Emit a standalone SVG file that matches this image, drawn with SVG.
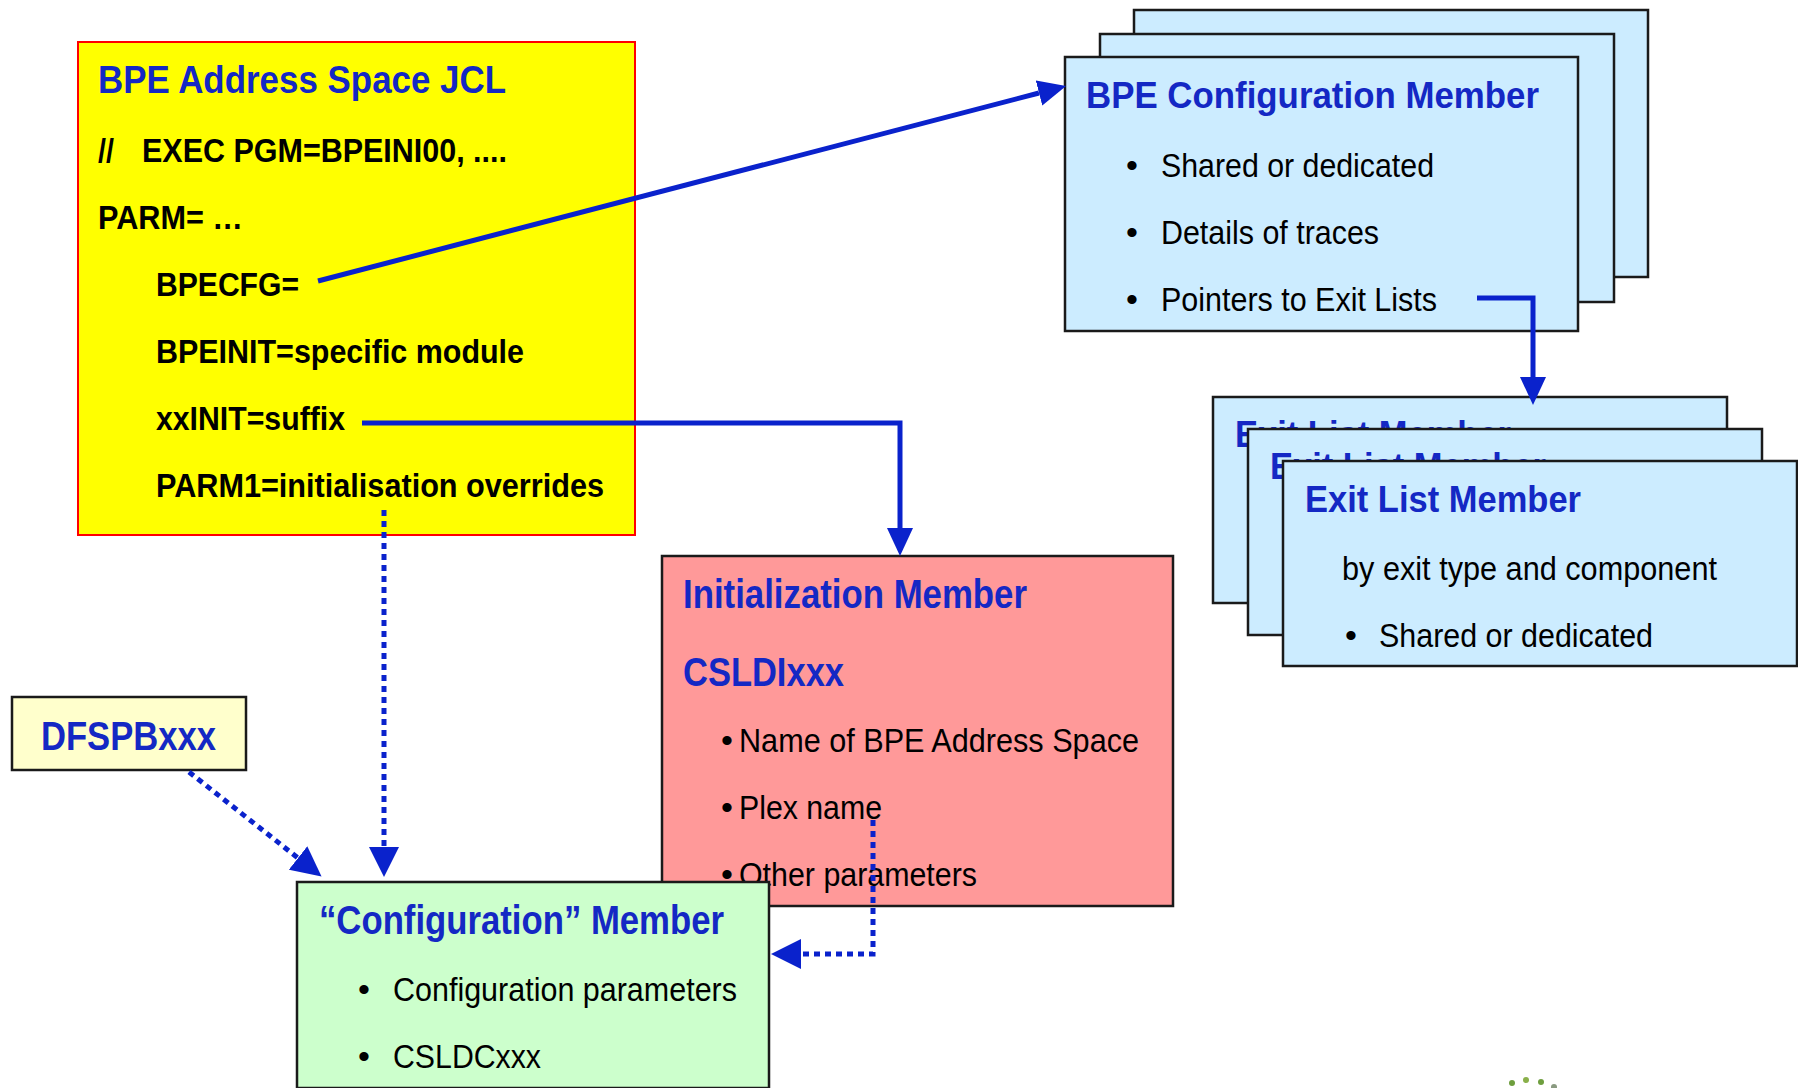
<svg xmlns="http://www.w3.org/2000/svg" width="1798" height="1088" viewBox="0 0 1798 1088">
<defs>
<style>
.t{font-family:"Liberation Sans Narrow","Liberation Sans",Arial,sans-serif;font-weight:bold;fill:#1428C4}
.b{font-family:"Liberation Sans Narrow","Liberation Sans",Arial,sans-serif;font-weight:bold;fill:#000;font-size:33px}
.n{font-family:"Liberation Sans Narrow","Liberation Sans",Arial,sans-serif;fill:#000;font-size:34px}
.box{stroke:#1a1a1a;stroke-width:2.5}
.blue{fill:#CCECFF}
.solid{fill:none;stroke:#0A22CC;stroke-width:5}
.dot{fill:none;stroke:#0A22CC;stroke-width:5;stroke-dasharray:6 5}
</style>
<marker id="ah" markerUnits="userSpaceOnUse" markerWidth="28" markerHeight="26" viewBox="0 0 28 26" refX="0" refY="13" orient="auto">
<path d="M0,0 L28,13 L0,26 Z" fill="#0A22CC"/>
</marker>
<marker id="ahd" markerUnits="userSpaceOnUse" markerWidth="30" markerHeight="30" viewBox="0 0 30 30" refX="0" refY="15" orient="auto">
<path d="M0,0 L30,15 L0,30 Z" fill="#0A22CC"/>
</marker>
</defs>
<rect width="1798" height="1088" fill="#fff"/>

<g id="jcl">
<rect x="78" y="42" width="557" height="493" fill="#FFFF00" stroke="#FF0000" stroke-width="2"/>
<text class="t" x="98" y="93" font-size="39" textLength="408" lengthAdjust="spacingAndGlyphs">BPE Address Space JCL</text>
<text class="b" x="98" y="162" textLength="16" lengthAdjust="spacingAndGlyphs">//</text>
<text class="b" x="142" y="162" textLength="365" lengthAdjust="spacingAndGlyphs">EXEC PGM=BPEINI00, ....</text>
<text class="b" x="98" y="229" textLength="145" lengthAdjust="spacingAndGlyphs">PARM= …</text>
<text class="b" x="156" y="296" textLength="143" lengthAdjust="spacingAndGlyphs">BPECFG=</text>
<text class="b" x="156" y="363" textLength="368" lengthAdjust="spacingAndGlyphs">BPEINIT=specific module</text>
<text class="b" x="156" y="430" textLength="189" lengthAdjust="spacingAndGlyphs">xxINIT=suffix</text>
<text class="b" x="156" y="497" textLength="448" lengthAdjust="spacingAndGlyphs">PARM1=initialisation overrides</text>
</g>

<g id="bpecfg">
<rect class="box blue" x="1134" y="10" width="514" height="267"/>
<text class="t" x="1156" y="60" font-size="37" textLength="453" lengthAdjust="spacingAndGlyphs">BPE Configuration Member</text>
<rect class="box blue" x="1100" y="34" width="514" height="268"/>
<text class="t" x="1121" y="84" font-size="37" textLength="453" lengthAdjust="spacingAndGlyphs">BPE Configuration Member</text>
<rect class="box blue" x="1065" y="57" width="513" height="274"/>
<text class="t" x="1086" y="108" font-size="37" textLength="453" lengthAdjust="spacingAndGlyphs">BPE Configuration Member</text>
<text class="n" x="1126" y="177">•</text>
<text class="n" x="1161" y="177" font-size="35" textLength="273" lengthAdjust="spacingAndGlyphs">Shared or dedicated</text>
<text class="n" x="1126" y="244">•</text>
<text class="n" x="1161" y="244" font-size="35" textLength="218" lengthAdjust="spacingAndGlyphs">Details of traces</text>
<text class="n" x="1126" y="311">•</text>
<text class="n" x="1161" y="311" font-size="35" textLength="276" lengthAdjust="spacingAndGlyphs">Pointers to Exit Lists</text>
</g>

<g id="exitlist">
<rect class="box blue" x="1213" y="397" width="514" height="206"/>
<text class="t" x="1235" y="447" font-size="36" textLength="276" lengthAdjust="spacingAndGlyphs">Exit List Member</text>
<rect class="box blue" x="1248" y="429" width="514" height="206"/>
<text class="t" x="1270" y="479" font-size="36" textLength="276" lengthAdjust="spacingAndGlyphs">Exit List Member</text>
<rect class="box blue" x="1283" y="461" width="514" height="205"/>
<text class="t" x="1305" y="512" font-size="36" textLength="276" lengthAdjust="spacingAndGlyphs">Exit List Member</text>
<text class="n" x="1342" y="580" textLength="375" lengthAdjust="spacingAndGlyphs">by exit type and component</text>
<text class="n" x="1345" y="647">•</text>
<text class="n" x="1379" y="647" textLength="274" lengthAdjust="spacingAndGlyphs">Shared or dedicated</text>
</g>

<g id="initmember">
<rect class="box" x="662" y="556" width="511" height="350" fill="#FF9999"/>
<text class="t" x="683" y="608" font-size="40" textLength="344" lengthAdjust="spacingAndGlyphs">Initialization Member</text>
<text class="t" x="683" y="686" font-size="40" textLength="161" lengthAdjust="spacingAndGlyphs">CSLDIxxx</text>
<text class="n" x="721" y="752">•</text>
<text class="n" x="739" y="752" textLength="400" lengthAdjust="spacingAndGlyphs">Name of BPE Address Space</text>
<text class="n" x="721" y="819">•</text>
<text class="n" x="739" y="819" textLength="143" lengthAdjust="spacingAndGlyphs">Plex name</text>
<text class="n" x="721" y="886">•</text>
<text class="n" x="739" y="886" textLength="238" lengthAdjust="spacingAndGlyphs">Other parameters</text>
</g>

<g id="dfspb">
<rect class="box" x="12" y="697" width="234" height="73" fill="#FFFFCC"/>
<text class="t" x="41" y="750" font-size="41" textLength="175" lengthAdjust="spacingAndGlyphs">DFSPBxxx</text>
</g>

<g id="configmember">
<rect class="box" x="297" y="882" width="472" height="206" fill="#CCFFCC"/>
<text class="t" x="319" y="934" font-size="40" textLength="405" lengthAdjust="spacingAndGlyphs">“Configuration” Member</text>
<text class="n" x="358" y="1001">•</text>
<text class="n" x="393" y="1001" textLength="344" lengthAdjust="spacingAndGlyphs">Configuration parameters</text>
<text class="n" x="358" y="1068">•</text>
<text class="n" x="393" y="1068" textLength="148" lengthAdjust="spacingAndGlyphs">CSLDCxxx</text>
</g>

<g id="connectors">
<path class="solid" d="M318,281 L1039,93" marker-end="url(#ah)"/>
<path class="solid" d="M362,423 H900 V528" marker-end="url(#ah)"/>
<path class="solid" d="M1477,298 H1533 V377" marker-end="url(#ah)"/>
<path class="dot" d="M384,510 V847" marker-end="url(#ahd)"/>
<path class="dot" d="M189,772 L298,858" marker-end="url(#ahd)"/>
<path class="dot" d="M873,820 V954 H801" marker-end="url(#ahd)"/>
</g>

<g id="logo">
<circle cx="1512" cy="1083" r="3" fill="#6E9E3E"/>
<circle cx="1526" cy="1080" r="3" fill="#8AB04A"/>
<circle cx="1541" cy="1082" r="3" fill="#6E9E3E"/>
<circle cx="1554" cy="1087" r="3" fill="#8A9A80"/>
</g>
</svg>
